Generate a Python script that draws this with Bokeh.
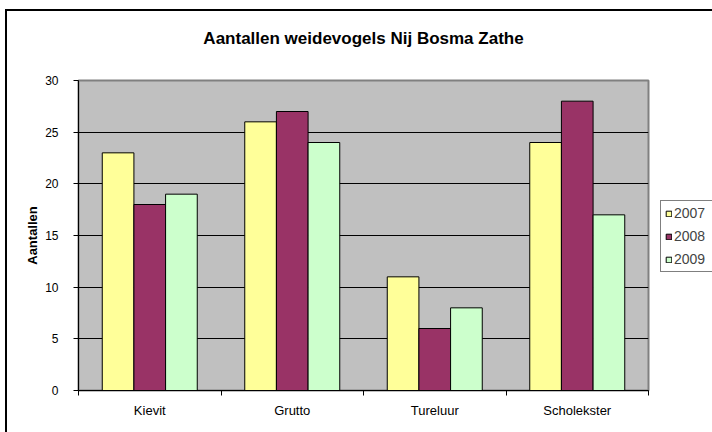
from bokeh.plotting import figure
from bokeh.layouts import row
from bokeh.models import Range1d, FixedTicker, Legend, LegendItem, LinearAxis
from bokeh.embed import file_html
from bokeh.resources import INLINE

categories = ["Kievit", "Grutto", "Tureluur", "Scholekster"]
years = ["2007", "2008", "2009"]
counts_2007 = [23, 26, 11, 24]
counts_2008 = [18, 27, 6, 28]
counts_2009 = [19, 24, 8, 17]
colors = ["#FFFF99", "#993366", "#CCFFCC"]
y_ticks = [0, 5, 10, 15, 20, 25, 30]
title_text = "Aantallen weidevogels Nij Bosma Zathe"
y_title = "Aantallen"

FONT = "Liberation Sans"
series = [counts_2007, counts_2008, counts_2009]

p = figure(width=660, height=432, output_backend="svg", toolbar_location=None,
           x_range=Range1d(0, len(categories)), y_range=Range1d(0, y_ticks[-1]),
           min_border_left=78, min_border_right=12, min_border_top=80, min_border_bottom=42)
p.background_fill_color = "#C0C0C0"
p.border_fill_color = None
p.outline_line_color = "#808080"
p.outline_line_width = 2

# title
p.title.text = title_text
p.title.align = "center"
p.title.text_font = FONT
p.title.text_font_size = "17px"
p.title.text_font_style = "bold"
p.title.text_color = "black"
p.title.standoff = 10

bar_w = 1 / 4.5
centers = [i + 0.5 for i in range(len(categories))]
renderers = []
for j, (vals, col) in enumerate(zip(series, colors)):
    xs = [c + (j - 1) * bar_w for c in centers]
    r = p.vbar(x=xs, top=vals, bottom=0, width=bar_w, fill_color=col,
               line_color="black", line_width=1)
    renderers.append(r)

# grid
p.xgrid.visible = False
p.ygrid.ticker = FixedTicker(ticks=y_ticks[1:-1])
p.ygrid.grid_line_color = "black"
p.ygrid.grid_line_width = 1

# y axis
yax = p.left[0]
yax.ticker = FixedTicker(ticks=y_ticks)
yax.axis_line_color = "black"
yax.major_tick_out = 5
yax.major_tick_in = 0
yax.minor_tick_line_color = None
yax.major_label_text_font = FONT
yax.major_label_text_font_size = "12px"
yax.major_label_text_color = "black"
yax.major_label_standoff = 15
yax.axis_label = y_title
yax.axis_label_text_font = FONT
yax.axis_label_text_font_size = "13px"
yax.axis_label_text_font_style = "bold"
yax.axis_label_text_color = "black"
yax.axis_label_standoff = 2

# x axis (labels under category centres, ticks on category boundaries)
xax = p.below[0]
xax.ticker = FixedTicker(ticks=centers, minor_ticks=list(range(len(categories) + 1)))
xax.major_label_overrides = {c: name for c, name in zip(centers, categories)}
xax.axis_line_color = "black"
xax.major_tick_line_color = None
xax.major_tick_out = 0
xax.major_tick_in = 0
xax.minor_tick_line_color = "black"
xax.minor_tick_out = 5
xax.minor_tick_in = 0
xax.major_label_text_font = FONT
xax.major_label_text_font_size = "13px"
xax.major_label_text_color = "black"
xax.major_label_standoff = 7

# invisible spacer between title and plot area
mid = len(categories) / 2
spacer = LinearAxis(ticker=FixedTicker(ticks=[mid]), axis_line_color=None,
                    major_tick_line_color=None, minor_tick_line_color=None,
                    major_tick_out=28, major_tick_in=0, minor_tick_out=0, minor_tick_in=0,
                    major_label_standoff=0, major_label_text_font_size="1px",
                    major_label_overrides={mid: ""})
p.add_layout(spacer, "above")

# legend panel (separate narrow figure to the right of the plot)
lp = figure(width=52, height=432, output_backend="svg", toolbar_location=None,
            x_axis_type=None, y_axis_type=None, min_border=0,
            x_range=Range1d(0, 1), y_range=Range1d(0, 1))
lp.outline_line_color = None
lp.background_fill_color = None
lp.border_fill_color = None
nan = float("nan")
swatches = [lp.vbar(x=[nan], top=[nan], width=1, fill_color=col, line_color="black",
                    line_width=1) for col in colors]
legend = Legend(items=[LegendItem(label=y, renderers=[r]) for y, r in zip(years, swatches)],
                location=(0, 118))
legend.label_text_font = FONT
legend.label_text_font_size = "14px"
legend.glyph_width = 7
legend.glyph_height = 7
legend.label_standoff = 2
legend.label_height = 16
legend.label_width = 40
legend.padding = 4
legend.spacing = 7
legend.margin = 0
legend.border_line_color = "black"
legend.border_line_width = 1
legend.background_fill_color = "white"
legend.background_fill_alpha = 1
lp.add_layout(legend)

layout = row(p, lp, spacing=0)
layout.styles = {"background": "linear-gradient(#000, #000) 5px 9px / 2px 100% no-repeat, "
                               "linear-gradient(#000, #000) 5px 9px / 100% 2px no-repeat, #fff"}

open("out.html", "w").write(file_html(layout, INLINE))
